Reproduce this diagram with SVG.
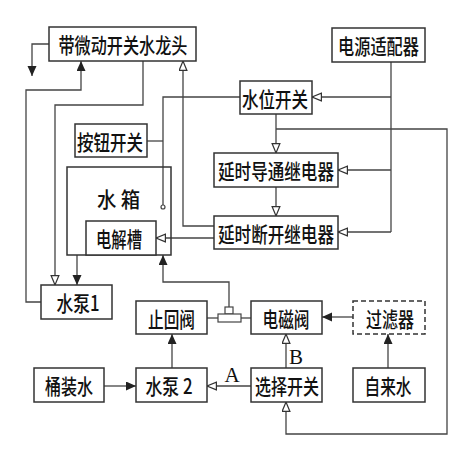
<svg xmlns="http://www.w3.org/2000/svg" width="468" height="457" viewBox="0 0 468 457">
<defs>
<marker id="fa" markerUnits="userSpaceOnUse" markerWidth="12" markerHeight="12" refX="10" refY="4.5" orient="auto"><path d="M0,0 L10,4.5 L0,9 z" fill="#222"/></marker>
<marker id="oa" markerUnits="userSpaceOnUse" markerWidth="12" markerHeight="12" refX="10" refY="4.5" orient="auto"><path d="M0.6,0.6 L10,4.5 L0.6,8.4 z" fill="#fff" stroke="#333" stroke-width="1.2"/></marker>
</defs>
<style>
.b{fill:#fff;stroke:#333;stroke-width:1.5}
.d{fill:#fff;stroke:#333;stroke-width:1.5;stroke-dasharray:5,3}
.t{font-family:"Noto Sans CJK SC","Noto Sans CJK JP",sans-serif;font-size:21px;font-weight:500;fill:#111;text-anchor:middle;dominant-baseline:central}
.l{font-family:"Liberation Serif",serif;font-size:21px;fill:#111;text-anchor:middle;dominant-baseline:central}
.c{fill:none;stroke:#444;stroke-width:1.3}
</style>
<rect width="468" height="457" fill="#fff"/>
<g id="connectors">
<polyline class="c" points="49,44 32,44 32,76" marker-end="url(#fa)"/>
<polyline class="c" points="41,302 26,302 26,90 81,90 81,61" marker-end="url(#fa)"/>
<polyline class="c" points="143,61 143,105 55,105 55,285" marker-end="url(#oa)"/>
<polyline class="c" points="214,226 183,226 183,61" marker-end="url(#oa)"/>
<polyline class="c" points="147,141 163,141"/>
<polyline class="c" points="240,97 163,97 163,205"/>
<circle cx="163" cy="207" r="2" fill="#fff" stroke="#444" stroke-width="1.2"/>
<polyline class="c" points="391,62 391,232"/>
<polyline class="c" points="391,97 312,97" marker-end="url(#oa)"/>
<polyline class="c" points="391,170 338,170" marker-end="url(#oa)"/>
<polyline class="c" points="391,232 338,232" marker-end="url(#oa)"/>
<polyline class="c" points="276,114 276,153" marker-end="url(#oa)"/>
<polyline class="c" points="276,187 276,216" marker-end="url(#oa)"/>
<polyline class="c" points="276,129 447,129 447,434 286,434 286,402" marker-end="url(#oa)"/>
<polyline class="c" points="214,238 156,238" marker-end="url(#oa)"/>
<polyline class="c" points="77,255 77,285" marker-end="url(#fa)"/>
<polyline class="c" points="229,307 229,282 163,282 163,255" marker-end="url(#fa)"/>
<polyline class="c" points="207,318 218,318"/>
<polyline class="c" points="241,318 251,318"/>
<rect x="225" y="307" width="8" height="7" fill="#fff" stroke="#444" stroke-width="1.2"/>
<rect x="218" y="314" width="23" height="8" fill="#fff" stroke="#444" stroke-width="1.2"/>
<polyline class="c" points="353,317 322,317" marker-end="url(#fa)"/>
<polyline class="c" points="388,368 388,334" marker-end="url(#fa)"/>
<polyline class="c" points="286,368 286,334" marker-end="url(#oa)"/>
<polyline class="c" points="172,368 172,334" marker-end="url(#fa)"/>
<polyline class="c" points="104,386 136,386" marker-end="url(#fa)"/>
<polyline class="c" points="251,386 207,386" marker-end="url(#oa)"/>
<text class="l" x="296" y="357">B</text>
<text class="l" x="232" y="375">A</text>
</g>
<g id="faucet"><rect class="b" x="49" y="27" width="147" height="34"/><text class="t" x="123" y="44" textLength="129" lengthAdjust="spacingAndGlyphs">带微动开关水龙头</text></g>
<g id="adapter"><rect class="b" x="332" y="28" width="93" height="34"/><text class="t" x="378.5" y="45" textLength="81" lengthAdjust="spacingAndGlyphs">电源适配器</text></g>
<g id="levelswitch"><rect class="b" x="240" y="81" width="72" height="33"/><text class="t" x="275" y="97.5" textLength="66" lengthAdjust="spacingAndGlyphs">水位开关</text></g>
<g id="button"><rect class="b" x="75" y="124" width="72" height="33"/><text class="t" x="110" y="141" textLength="66" lengthAdjust="spacingAndGlyphs">按钮开关</text></g>
<g id="relayon"><rect class="b" x="214" y="153" width="124" height="34"/><text class="t" x="276" y="170" textLength="116" lengthAdjust="spacingAndGlyphs">延时导通继电器</text></g>
<g id="relayoff"><rect class="b" x="214" y="216" width="124" height="33"/><text class="t" x="276" y="232.5" textLength="116" lengthAdjust="spacingAndGlyphs">延时断开继电器</text></g>
<g id="tank"><rect x="67" y="167" width="104" height="88" fill="none" stroke="#333" stroke-width="1.5"/><text class="t" x="118.5" y="198" textLength="43" lengthAdjust="spacingAndGlyphs">水 箱</text></g>
<g id="electrolysis"><rect class="b" x="86" y="221" width="70" height="34"/><text class="t" x="119" y="238" textLength="46" lengthAdjust="spacingAndGlyphs">电解槽</text></g>
<g id="pump1"><rect class="b" x="41" y="285" width="71" height="34"/><text class="t" x="78" y="302" textLength="43" lengthAdjust="spacingAndGlyphs">水泵1</text></g>
<g id="checkvalve"><rect class="b" x="136" y="301" width="71" height="33"/><text class="t" x="171.5" y="317.5" textLength="47" lengthAdjust="spacingAndGlyphs">止回阀</text></g>
<g id="solenoid"><rect class="b" x="251" y="301" width="71" height="33"/><text class="t" x="286" y="317.5" textLength="47" lengthAdjust="spacingAndGlyphs">电磁阀</text></g>
<g id="filter"><rect class="d" x="353" y="301" width="72" height="33"/><text class="t" x="390" y="317.5" textLength="48" lengthAdjust="spacingAndGlyphs">过滤器</text></g>
<g id="bottled"><rect class="b" x="34" y="368" width="70" height="34"/><text class="t" x="69" y="385" textLength="48" lengthAdjust="spacingAndGlyphs">桶装水</text></g>
<g id="pump2"><rect class="b" x="136" y="368" width="71" height="34"/><text class="t" x="169" y="385" textLength="47" lengthAdjust="spacingAndGlyphs">水泵 2</text></g>
<g id="selector"><rect class="b" x="251" y="368" width="71" height="34"/><text class="t" x="287" y="385" textLength="64" lengthAdjust="spacingAndGlyphs">选择开关</text></g>
<g id="tapwater"><rect class="b" x="353" y="368" width="72" height="34"/><text class="t" x="388" y="385" textLength="47" lengthAdjust="spacingAndGlyphs">自来水</text></g>
</svg>
